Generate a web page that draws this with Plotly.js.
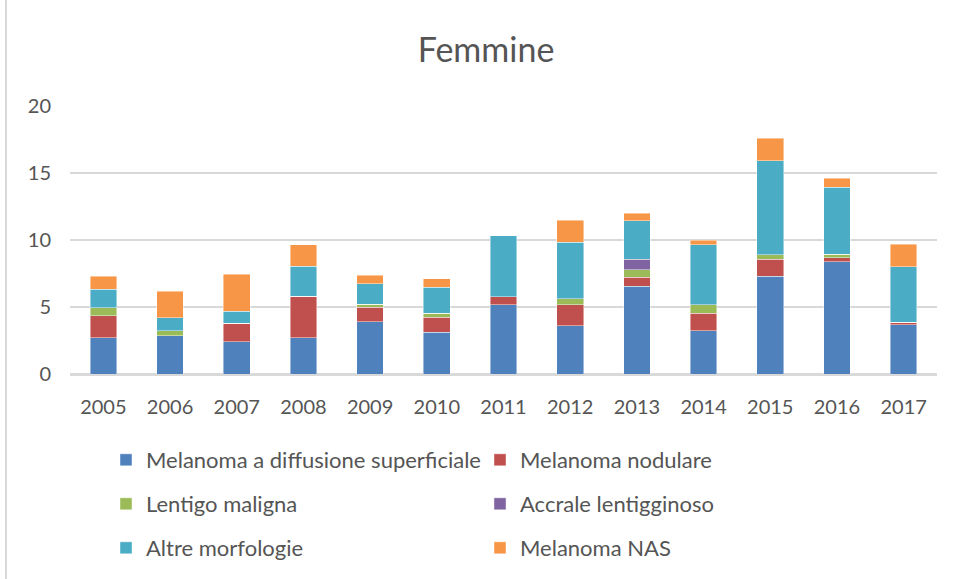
<!DOCTYPE html>
<html>
<head>
<meta charset="utf-8">
<script src="https://cdn.plot.ly/plotly-3.0.1.min.js"></script>
<style>
html,body{margin:0;padding:0;background:#fff;}
#wrap{position:relative;width:954px;height:579px;}
#chart{position:absolute;left:0;top:0;width:954px;height:579px;}
#border{position:absolute;left:5px;top:0;width:2px;height:579px;background:#d9d9d9;}
</style>
</head>
<body>
<div id="wrap"><div id="chart"></div><div id="border"></div></div>
<script>
const years = ['2005','2006','2007','2008','2009','2010','2011','2012','2013','2014','2015','2016','2017'];
const superficiale = [2.70, 2.84, 2.41, 2.69, 3.91, 3.11, 5.17, 3.61, 6.54, 3.23, 7.31, 8.38, 3.68];
const nodulare     = [1.63, 0.00, 1.37, 3.11, 1.07, 1.14, 0.60, 1.56, 0.67, 1.32, 1.27, 0.28, 0.18];
const lentigo      = [0.60, 0.37, 0.00, 0.00, 0.22, 0.30, 0.00, 0.45, 0.58, 0.62, 0.33, 0.27, 0.00];
const accrale      = [0, 0, 0, 0, 0, 0, 0, 0, 0.77, 0, 0, 0, 0];
const altre        = [1.41, 0.97, 0.90, 2.23, 1.52, 1.94, 4.55, 4.23, 2.88, 4.48, 6.99, 5.00, 4.15];
const nas          = [0.95, 1.99, 2.76, 1.60, 0.64, 0.62, 0.00, 1.62, 0.55, 0.33, 1.71, 0.67, 1.69];
const seriesNames = ['Melanoma a diffusione superficiale','Melanoma nodulare','Lentigo maligna','Accrale lentigginoso','Altre morfologie','Melanoma NAS'];
const yTicks = [0, 5, 10, 15, 20];

const colors = ['#4f81bd','#c0504d','#9bbb59','#8064a2','#4bacc6','#f79646'];
const values = [superficiale, nodulare, lentigo, accrale, altre, nas];
const legendIds = ['legend','legend2','legend3','legend4','legend5','legend6'];

const traces = values.map((v, i) => ({
  type: 'bar',
  name: seriesNames[i],
  x: years,
  y: v,
  legend: legendIds[i],
  marker: {color: colors[i], line: {color: 'rgba(255,255,255,0.55)', width: 0.8}},
  hoverinfo: 'x+y+name'
}));

const FONT = 'Lato, "Open Sans", sans-serif';
const TXT = '#555555';
const plotL = 70, plotR = 937, plotT = 106, plotB = 375;
const pw = plotR - plotL, ph = plotB - plotT;
function px2x(p){ return (p - plotL) / pw; }
function py2y(p){ return (plotB - p) / ph; }

const colX = [122, 496];
const rowY = [460, 504, 548];

const layout = {
  width: 954, height: 579,
  margin: {l: plotL, r: 954 - plotR, t: plotT, b: 579 - plotB},
  paper_bgcolor: '#ffffff', plot_bgcolor: '#ffffff',
  barmode: 'stack',
  bargap: 0.6,
  font: {family: FONT, color: TXT},
  title: {text: 'Femmine', font: {family: FONT, size: 34, color: TXT},
          x: px2x(486), xref: 'paper', xanchor: 'center', y: 1 - 50/579, yref: 'container', yanchor: 'middle'},
  xaxis: {type: 'category', tickfont: {size: 20, color: TXT}, showgrid: false,
          showline: true, linecolor: '#d9d9d9', linewidth: 1.5, ticks: '', ticklabelstandoff: 14},
  yaxis: {range: [0, 20], tickvals: yTicks, tickfont: {size: 20, color: TXT},
          gridcolor: '#d9d9d9', gridwidth: 1.5, zeroline: true, zerolinecolor: '#d9d9d9', zerolinewidth: 1.5,
          showline: false, ticks: '', ticklabelstandoff: 18},
  showlegend: true
};
legendIds.forEach((id, i) => {
  const col = i % 2, row = Math.floor(i / 2);
  layout[id] = {
    x: px2x(colX[col] - 16), y: py2y(rowY[row]), xanchor: 'left', yanchor: 'middle',
    xref: 'paper', yref: 'paper', bgcolor: 'rgba(0,0,0,0)',
    font: {family: FONT, size: 22, color: TXT}
  };
});

Plotly.newPlot('chart', traces, layout, {displayModeBar: false, staticPlot: true});
</script>
</body>
</html>
